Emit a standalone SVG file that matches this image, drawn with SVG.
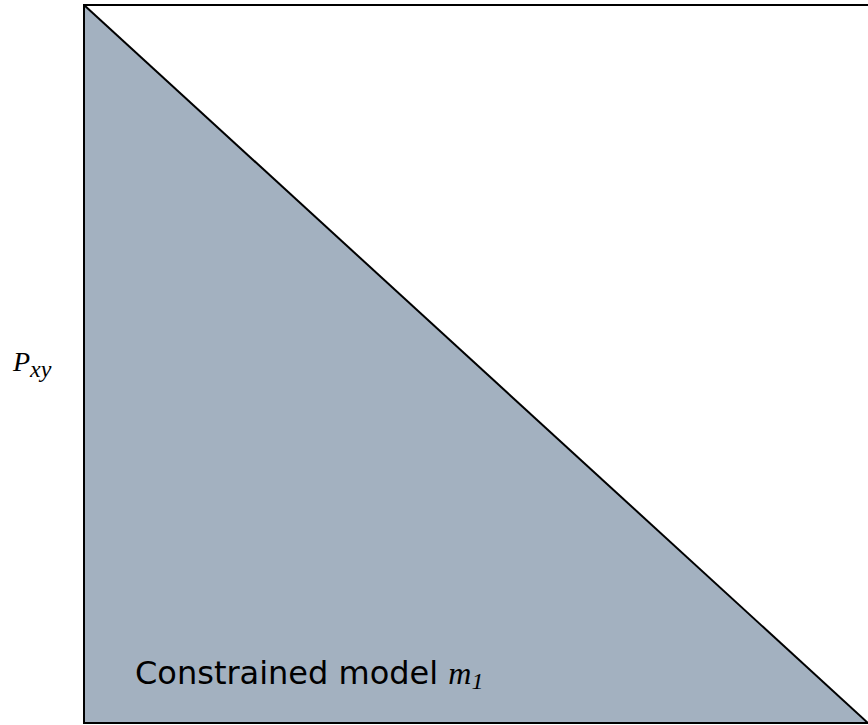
<svg xmlns="http://www.w3.org/2000/svg" width="868" height="725" viewBox="0 0 868 725">
<style>
.lbl{font-family:"DejaVu Sans",Verdana,sans-serif;font-size:32px;fill:#000}
.math{font-family:"Liberation Serif","DejaVu Serif",serif;font-style:italic;fill:#000}
</style>
<rect x="0" y="0" width="868" height="725" fill="#fff"/>
<g id="region-m1">
<polygon points="84,5 868,723 84,723" fill="#A3B1C0" stroke="none"/>
<line x1="84" y1="5" x2="868" y2="723" stroke="#000" stroke-width="2"/>
</g>
<g id="frame">
<rect x="84" y="5" width="786" height="718" fill="none" stroke="#000" stroke-width="2"/>
</g>
<g id="label-m1">
<text x="135" y="684" class="lbl">Constrained model <tspan class="math" font-size="32">m</tspan><tspan class="math" font-style="normal" font-size="24" dy="5">1</tspan></text>
</g>
<g id="label-pxy">
<text x="13" y="371" class="math" font-size="28">P<tspan font-size="24" dy="6">xy</tspan></text>
</g>
</svg>
